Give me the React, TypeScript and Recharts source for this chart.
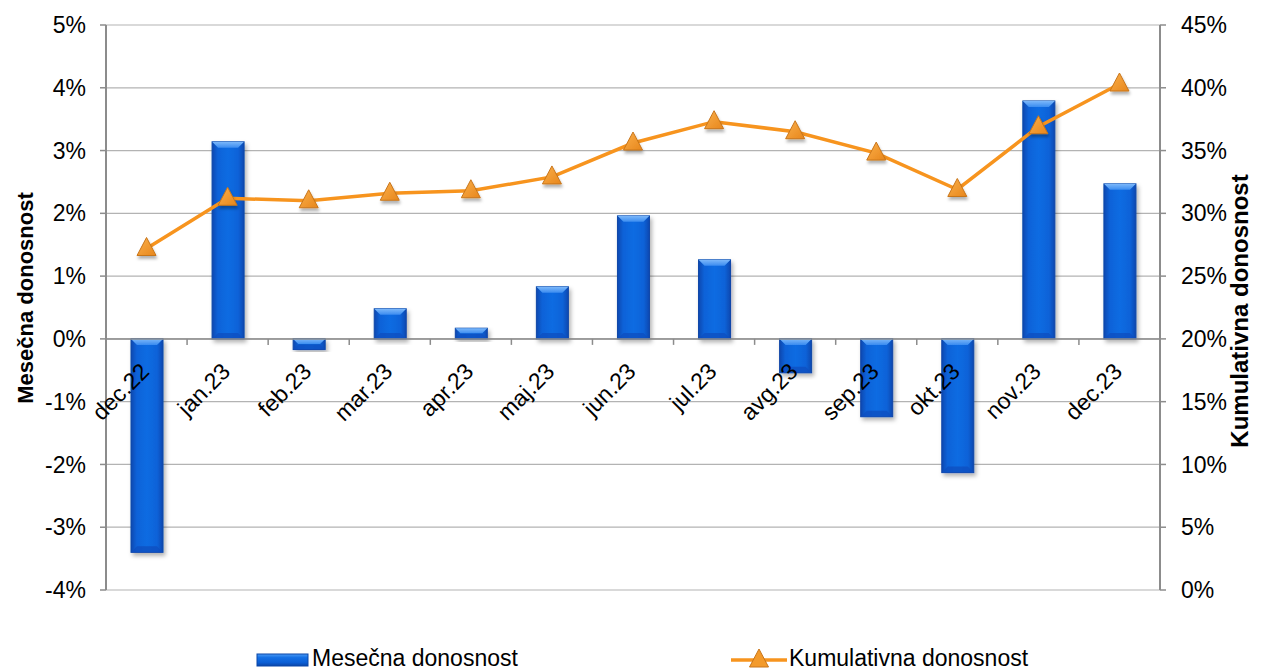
import {
  Bar,
  CartesianGrid,
  ComposedChart,
  Line,
  ReferenceLine,
  XAxis,
  YAxis,
} from "recharts";

const months = [
  "dec.22", "jan.23", "feb.23", "mar.23", "apr.23", "maj.23", "jun.23",
  "jul.23", "avg.23", "sep.23", "okt.23", "nov.23", "dec.23",
];
const monthlyReturn = [-3.4, 3.14, -0.17, 0.48, 0.17, 0.83, 1.96, 1.26, -0.54, -1.24, -2.13, 3.79, 2.47];
const cumulativeReturn = [27.2, 31.2, 31.0, 31.6, 31.8, 32.9, 35.6, 37.3, 36.5, 34.8, 31.9, 36.9, 40.3];
const leftTicks = [-4, -3, -2, -1, 0, 1, 2, 3, 4, 5];
const rightTicks = [0, 5, 10, 15, 20, 25, 30, 35, 40, 45];

const data = months.map((m, i) => ({
  month: m,
  monthly: monthlyReturn[i],
  cumulative: cumulativeReturn[i],
}));

const W = 1247;
const H = 663;
const M = { top: 17, right: 0, bottom: 80, left: 0 };
const LEFT_W = 98;
const RIGHT_W = 95;
const plotH = H - M.top - M.bottom - 1;
const plotW = W - LEFT_W - RIGHT_W;
const band = plotW / months.length;
const zeroY = M.top + (5 / 9) * plotH;

const FONT = "Liberation Sans, Arial, sans-serif";
const AXIS = "#8c8c8c";

function MonthTick(props: any) {
  const { x, payload, index } = props;
  return (
    <g>
      <line x1={x - band / 2} x2={x - band / 2} y1={zeroY} y2={zeroY + 6} stroke={AXIS} strokeWidth={1.5} />
      {index === months.length - 1 && (
        <line x1={x + band / 2} x2={x + band / 2} y1={zeroY} y2={zeroY + 6} stroke={AXIS} strokeWidth={1.5} />
      )}
      <text
        x={x + 4}
        y={zeroY + 34}
        transform={`rotate(-45 ${x + 4} ${zeroY + 34})`}
        textAnchor="end"
        fontSize={23}
        fontFamily={FONT}
        fill="#000"
      >
        {payload.value}
      </text>
    </g>
  );
}

function BevelBar(props: any) {
  const { x, y, width, height } = props;
  if (width == null || height == null) return null;
  const top = Math.min(y, y + height);
  const h = Math.abs(height);
  const b = Math.min(6, h / 2);
  return (
    <g filter="url(#barShadow)">
      <rect x={x} y={top} width={width} height={h} fill="url(#barBody)" stroke="#0a46a8" strokeWidth={1} />
      <polygon
        points={`${x},${top} ${x + width},${top} ${x + width - b},${top + b} ${x + b},${top + b}`}
        fill="url(#barTop)"
      />
      <polygon
        points={`${x},${top + h} ${x + width},${top + h} ${x + width - b},${top + h - b} ${x + b},${top + h - b}`}
        fill="#0a4fc0"
        opacity={0.8}
      />
    </g>
  );
}

function TriangleDot(props: any) {
  const { cx, cy } = props;
  if (cx == null || cy == null) return null;
  return (
    <polygon
      points={`${cx},${cy - 11} ${cx - 9.5},${cy + 7} ${cx + 9.5},${cy + 7}`}
      fill="url(#triFill)"
      stroke="#c8751a"
      strokeWidth={1}
      filter="url(#triShadow)"
    />
  );
}

function AxisTitle({ x, y, size, text }: { x: number; y: number; size: number; text: string }) {
  return (
    <text
      x={x}
      y={y}
      transform={`rotate(-90 ${x} ${y})`}
      textAnchor="middle"
      fontSize={size}
      fontWeight="bold"
      fontFamily={FONT}
      fill="#000"
    >
      {text}
    </text>
  );
}

function LegendBox() {
  return (
    <div
      style={{
        position: "absolute",
        left: 0,
        top: 0,
        width: W,
        height: H,
        pointerEvents: "none",
        fontFamily: FONT,
        fontSize: 23,
        color: "#000",
      }}
    >
      <svg style={{ position: "absolute", left: 248, top: 644 }} width={54} height={16}>
        <defs>
          <linearGradient id="legBar" x1="0" y1="0" x2="0" y2="1">
            <stop offset="0%" stopColor="#4d9bf5" />
            <stop offset="30%" stopColor="#1470e4" />
            <stop offset="70%" stopColor="#0b5fd6" />
            <stop offset="100%" stopColor="#0a46a8" />
          </linearGradient>
        </defs>
        <rect x={1} y={2} width={51} height={12} fill="url(#legBar)" stroke="#0a46a8" />
      </svg>
      <div style={{ position: "absolute", left: 304, top: 638, lineHeight: "24px" }}>Mesečna donosnost</div>
      <svg style={{ position: "absolute", left: 722, top: 638 }} width={58} height={25}>
        <line x1={1} x2={57} y1={14} y2={14} stroke="#f7941e" strokeWidth={3.5} />
        <polygon points="29,3 19.5,21 38.5,21" fill="#f39a2b" stroke="#c8751a" strokeWidth={1} />
      </svg>
      <div style={{ position: "absolute", left: 781, top: 638, lineHeight: "24px" }}>Kumulativna donosnost</div>
    </div>
  );
}

export default function App() {
  return (
    <div style={{ position: "relative", width: W, height: H }}>
      <ComposedChart width={W} height={H} data={data} margin={M}>
        <defs>
          <linearGradient id="barBody" x1="0" y1="0" x2="1" y2="0">
            <stop offset="0%" stopColor="#0848b0" />
            <stop offset="18%" stopColor="#0b62d8" />
            <stop offset="50%" stopColor="#0e6ce2" />
            <stop offset="82%" stopColor="#0b62d8" />
            <stop offset="100%" stopColor="#0848b0" />
          </linearGradient>
          <linearGradient id="barTop" x1="0" y1="0" x2="0" y2="1">
            <stop offset="0%" stopColor="#7db8fa" />
            <stop offset="100%" stopColor="#3a8cf0" />
          </linearGradient>
          <linearGradient id="triFill" x1="0" y1="0" x2="1" y2="1">
            <stop offset="0%" stopColor="#fbb04a" />
            <stop offset="100%" stopColor="#e7861c" />
          </linearGradient>
          <filter id="barShadow" x="-30%" y="-10%" width="160%" height="130%">
            <feDropShadow dx="2" dy="3" stdDeviation="2" floodColor="#000" floodOpacity="0.3" />
          </filter>
          <filter id="triShadow" x="-50%" y="-50%" width="200%" height="200%">
            <feDropShadow dx="1" dy="3" stdDeviation="1.5" floodColor="#000" floodOpacity="0.3" />
          </filter>
        </defs>
        <CartesianGrid yAxisId="left" vertical={false} stroke="#b3b3b3" strokeWidth={1.2} />
        <XAxis
          dataKey="month"
          interval={0}
          height={1}
          axisLine={false}
          tickLine={false}
          tick={(p: any) => <MonthTick {...p} />}
        />
        <YAxis
          yAxisId="left"
          width={LEFT_W}
          domain={[-4, 5]}
          ticks={leftTicks}
          tickFormatter={(v: number) => `${v}%`}
          axisLine={{ stroke: AXIS, strokeWidth: 2 }}
          tickLine={{ stroke: AXIS, strokeWidth: 1.5 }}
          tickSize={6}
          tickMargin={14}
          tick={{ fontSize: 23, fill: "#000", fontFamily: FONT }}
          label={{ content: () => <AxisTitle x={25} y={290} size={22} text="Mesečna donosnost" /> }}
        />
        <YAxis
          yAxisId="right"
          orientation="right"
          width={RIGHT_W}
          domain={[0, 45]}
          ticks={rightTicks}
          tickFormatter={(v: number) => `${v}%`}
          axisLine={{ stroke: AXIS, strokeWidth: 2 }}
          tickLine={{ stroke: AXIS, strokeWidth: 1.5 }}
          tickSize={6}
          tickMargin={15}
          tick={{ fontSize: 23, fill: "#000", fontFamily: FONT, textAnchor: "start" }}
          label={{ content: () => <AxisTitle x={1240} y={303} size={24} text="Kumulativna donosnost" /> }}
        />
        <ReferenceLine yAxisId="left" y={0} stroke={AXIS} strokeWidth={1.5} />
        <Bar
          yAxisId="left"
          dataKey="monthly"
          barSize={32}
          shape={<BevelBar />}
          isAnimationActive={false}
        />
        <Line
          yAxisId="right"
          dataKey="cumulative"
          type="linear"
          stroke="#f7941e"
          strokeWidth={3.5}
          dot={<TriangleDot />}
          activeDot={false}
          isAnimationActive={false}
        />
      </ComposedChart>
      <LegendBox />
    </div>
  );
}
